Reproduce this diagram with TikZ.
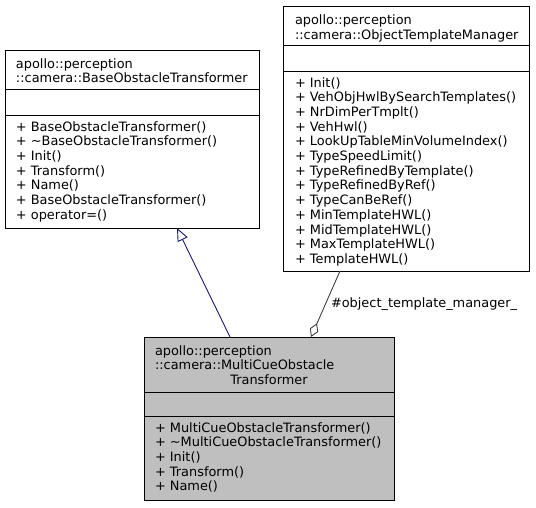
\documentclass[tikz,border=0pt]{standalone}
\usepackage{fontspec}
\setmainfont{DejaVu Sans}
\usetikzlibrary{arrows.meta,calc}
\definecolor{inhcol}{HTML}{191970}
\definecolor{aggcol}{HTML}{404040}
\definecolor{boxfill}{HTML}{BFBFBF}
\begin{document}
\begin{tikzpicture}[x=1pt,y=-1pt,
  umlbox/.style={draw=black, line width=1pt, anchor=north west, inner sep=0pt, outer sep=0pt},
  txt/.style={anchor=base west, inner sep=0pt, outer sep=0pt, font=\fontsize{12.9}{14.7}\selectfont},
  ctxt/.style={txt, anchor=base},
  sep/.style={draw=black, line width=1pt},
  inh/.style={draw=inhcol, line width=0.9pt, -{Triangle[open,length=13pt,width=11pt]}},
  agg/.style={draw=aggcol, line width=0.9pt, -{Diamond[open,length=15pt,width=9pt]}}]
\useasboundingbox (0,0) rectangle (536,507);

% Boxes
\node[umlbox, minimum width=254pt, minimum height=178pt] (base) at (5,50) {};
\node[umlbox, minimum width=246pt, minimum height=265pt] (tmpl) at (283,6) {};
\node[umlbox, fill=boxfill, minimum width=250pt, minimum height=163pt] (multi) at (144,337) {};

% Separators
\draw[sep] (5,89) -- (259,89);
\draw[sep] (5,115) -- (259,115);
\draw[sep] (283,45) -- (529,45);
\draw[sep] (283,71) -- (529,71);
\draw[sep] (144,392) -- (394,392);
\draw[sep] (144,416) -- (394,416);

% Base titles
\node[txt] (bt1) at (16,68) {apollo::perception};
\node[txt] (bt2) at (16,82.7) {::camera::BaseObstacleTransformer};
\foreach \t [count=\i] in {+ BaseObstacleTransformer(), + \textasciitilde BaseObstacleTransformer(), + Init(), + Transform(), + Name(), + BaseObstacleTransformer(), + operator=()}
  \node[txt] (bm\i) at (16,{131+(\i-1)*14.7}) {\t};

% Template titles
\node[txt] (tt1) at (295,24.5) {apollo::perception};
\node[txt] (tt2) at (295,39.2) {::camera::ObjectTemplateManager};
\foreach \t [count=\i] in {+ Init(), + VehObjHwlBySearchTemplates(), + NrDimPerTmplt(), + VehHwl(), + LookUpTableMinVolumeIndex(), + TypeSpeedLimit(), + TypeRefinedByTemplate(), + TypeRefinedByRef(), + TypeCanBeRef(), + MinTemplateHWL(), + MidTemplateHWL(), + MaxTemplateHWL(), + TemplateHWL()}
  \node[txt] (tm\i) at (295,{87+(\i-1)*14.7}) {\t};

% Multi titles
\node[txt] (mt1) at (155,355) {apollo::perception};
\node[txt] (mt2) at (155,369.7) {::camera::MultiCueObstacle};
\node[ctxt] (mt3) at (269,384.4) {Transformer};
\foreach \t [count=\i] in {+ MultiCueObstacleTransformer(), + \textasciitilde MultiCueObstacleTransformer(), + Init(), + Transform(), + Name()}
  \node[txt] (mm\i) at (155,{432+(\i-1)*14.7}) {\t};

% Connectors
\draw[inh] ($(multi.north west)+(86,0)$) -- ($(base.south west)+(172,0)$);
\draw[agg] ($(tmpl.south west)+(57,0)$) -- ($(multi.north west)+(167,0)$);
\node[txt] (lbl) at (331,307) {\#object\_template\_manager\_};
\end{tikzpicture}
\end{document}
